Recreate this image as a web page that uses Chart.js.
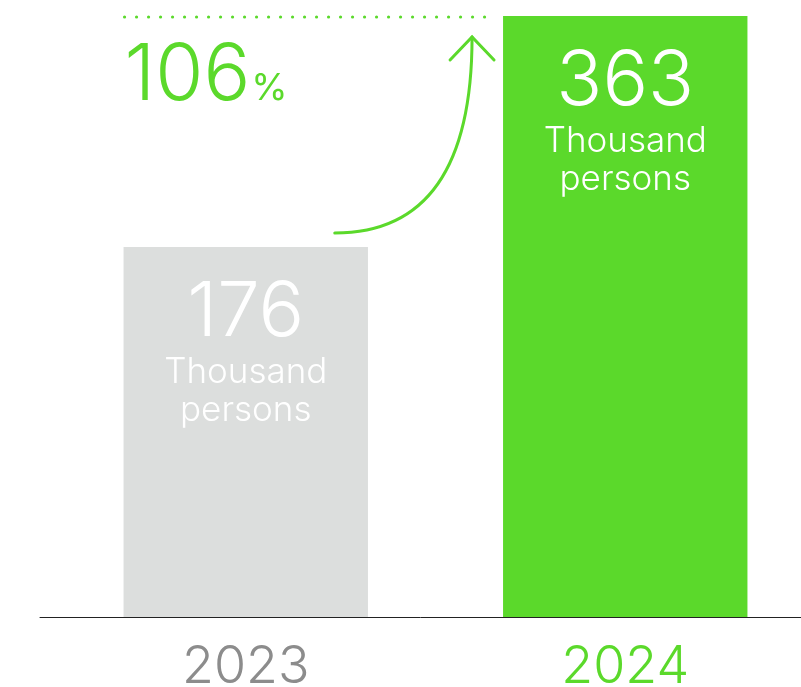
<!DOCTYPE html>
<html>
<head>
<meta charset="utf-8">
<script src="https://cdn.jsdelivr.net/npm/chart.js@4.4.1/dist/chart.umd.min.js"></script>
<style>
  body { margin: 0; overflow: hidden; background: #fff; }
  canvas { display: block; }
</style>
</head>
<body>
<canvas id="graficoPersonas" width="820" height="687"></canvas>
<script>
// Datos del gráfico (miles de personas por año)
const anios = ["2023", "2024"];
const personas = [176, 363];
const unidad = ["Thousand", "persons"];
const coloresBarras = ["#dcdedd", "#5bd92b"];
const coloresAnios = ["#8c8c8c", "#5bd92b"];

const VERDE = "#5bd92b";
const FUENTE = "Inter, Lato, sans-serif";
const minimoEje = -123.5; // el eje no empieza en cero

// Textos dentro de las barras, flecha de crecimiento y línea base
const etiquetasPlugin = {
  id: "etiquetas",
  afterDraw(chart) {
    const ctx = chart.ctx;
    const barras = chart.getDatasetMeta(0).data;
    const area = chart.chartArea;

    ctx.save();
    ctx.fillStyle = "#fff";
    ctx.textAlign = "center";
    ctx.textBaseline = "alphabetic";
    barras.forEach((barra, i) => {
      ctx.font = `300 76px ${FUENTE}`;
      ctx.fillText(personas[i], barra.x, barra.y + 89);
      ctx.font = `300 35px ${FUENTE}`;
      ctx.fillText(unidad[0], barra.x, barra.y + 136);
      ctx.fillText(unidad[1], barra.x, barra.y + 174);
    });

    const [b1, b2] = barras;
    const izquierda1 = b1.x - b1.width / 2;
    const izquierda2 = b2.x - b2.width / 2;

    // Línea punteada a la altura de la barra mayor
    ctx.fillStyle = VERDE;
    for (let x = izquierda1 + 1; x < izquierda2 - 10; x += 12) {
      ctx.beginPath();
      ctx.arc(x, b2.y + 1, 1.6, 0, Math.PI * 2);
      ctx.fill();
    }

    // Porcentaje de crecimiento
    const crecimiento = Math.round((personas[1] - personas[0]) / personas[0] * 100);
    ctx.textAlign = "left";
    ctx.font = `300 78px ${FUENTE}`;
    const texto = String(crecimiento);
    ctx.fillText(texto, izquierda1 + 1, b2.y + 84);
    const ancho = ctx.measureText(texto).width;
    ctx.font = `400 37px ${FUENTE}`;
    ctx.fillText("%", izquierda1 + 1 + ancho + 1, b2.y + 84);

    // Flecha curva
    const x0 = b1.x + 89, y0 = b1.y - 14;
    const xp = izquierda2 - 31, yp = b2.y + 21;
    ctx.strokeStyle = VERDE;
    ctx.lineWidth = 3;
    ctx.lineCap = "round";
    ctx.beginPath();
    ctx.moveTo(x0, y0);
    ctx.bezierCurveTo(x0 + 90, y0, xp, y0 - 63, xp, yp);
    ctx.stroke();
    ctx.beginPath();
    ctx.moveTo(xp - 22, yp + 23);
    ctx.lineTo(xp, yp);
    ctx.lineTo(xp + 22, yp + 23);
    ctx.stroke();

    // Línea base
    ctx.strokeStyle = "#222";
    ctx.lineWidth = 1;
    ctx.beginPath();
    ctx.moveTo(40, Math.round(area.bottom) + 0.5);
    ctx.lineTo(801, Math.round(area.bottom) + 0.5);
    ctx.stroke();
    ctx.restore();
  }
};

const ctx = document.getElementById("graficoPersonas").getContext("2d");
new Chart(ctx, {
  type: "bar",
  data: {
    labels: anios,
    datasets: [{
      data: personas,
      backgroundColor: coloresBarras,
      base: minimoEje,
      barPercentage: 0.644,
      categoryPercentage: 1
    }]
  },
  options: {
    responsive: false,
    animation: false,
    layout: { padding: { left: 56, right: 5, top: 16, bottom: 0 } },
    plugins: {
      legend: { display: false },
      tooltip: { enabled: false }
    },
    scales: {
      x: {
        grid: { display: false, drawTicks: false },
        border: { display: false },
        ticks: {
          color: (c) => coloresAnios[c.index],
          font: { family: FUENTE, size: 52, weight: 300, lineHeight: 1 },
          padding: 24
        },
        afterFit: (escala) => { escala.height = 70; }
      },
      y: {
        display: false,
        min: minimoEje,
        max: Math.max(...personas)
      }
    }
  },
  plugins: [etiquetasPlugin]
});
</script>
</body>
</html>
